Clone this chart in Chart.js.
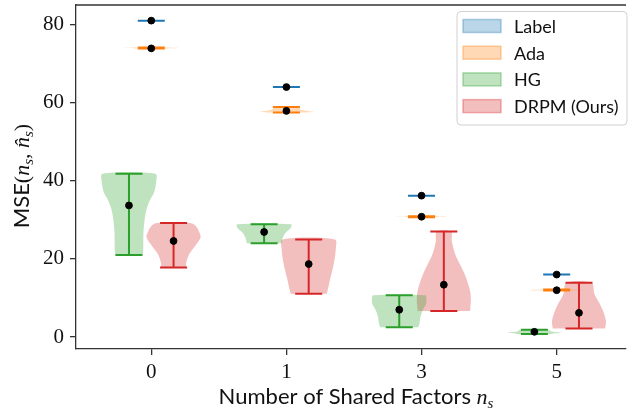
<!DOCTYPE html>
<html>
<head>
<meta charset="utf-8">
<script src="https://cdn.jsdelivr.net/npm/chart.js@4.4.1/dist/chart.umd.min.js"></script>
<style>
  html, body { margin: 0; padding: 0; background: #fff; }
  #wrap { width: 631px; height: 411px; }
</style>
</head>
<body>
<div id="wrap"><canvas id="violin-chart"></canvas></div>
<script>
// data
const categories = ['0', '1', '3', '5'];
const seriesNames = ['Label', 'Ada', 'HG', 'DRPM (Ours)'];
const yTicks = [0, 20, 40, 60, 80];

const labelMean = [81.0, 64.0, 36.2, 16.0];
const labelMin = [81.0, 64.0, 36.2, 16.0];
const labelMax = [81.0, 64.0, 36.2, 16.0];

const adaMean = [73.9, 57.9, 30.8, 12.0];
const adaMin = [73.85, 57.5, 30.7, 11.9];
const adaMax = [74.1, 58.9, 30.95, 12.15];

const hgMean = [33.7, 26.9, 7.0, 1.35];
const hgMin = [21.0, 24.0, 2.5, 0.8];
const hgMax = [41.8, 28.9, 10.7, 1.9];

const drpmMean = [24.6, 18.7, 13.4, 6.2];
const drpmMin = [17.8, 11.1, 6.7, 2.2];
const drpmMax = [29.2, 25.0, 27.0, 13.9];

// violin outlines: [value, half width (category units)]
const labelShape = [[], [], [], []];
const adaShape = [
  [[73.85, 0.08], [74.0, 0.2], [74.1, 0.08]],
  [[57.5, 0.14], [57.7, 0.2], [57.9, 0.15], [58.3, 0.1], [58.9, 0.1]],
  [[30.7, 0.08], [30.82, 0.2], [30.95, 0.08]],
  [[11.9, 0.08], [12.0, 0.2], [12.15, 0.08]]
];
const hgShape = [
  [[21.0, 0.10], [22.0, 0.105], [26.7, 0.107], [30.1, 0.116], [32.7, 0.13], [35.2, 0.157], [36.9, 0.184], [39.4, 0.2], [41.8, 0.196]],
  [[24.0, 0.128], [25.5, 0.139], [26.7, 0.159], [28.0, 0.198], [28.9, 0.2]],
  [[2.5, 0.141], [3.5, 0.15], [5.2, 0.157], [6.9, 0.174], [8.6, 0.2], [10.2, 0.2], [10.7, 0.195]],
  [[0.8, 0.12], [1.15, 0.2], [1.45, 0.13], [1.9, 0.1]]
];
const drpmShape = [
  [[17.8, 0.092], [19.1, 0.094], [21.3, 0.117], [23.4, 0.161], [25.5, 0.2], [26.7, 0.192], [28.4, 0.166], [29.2, 0.121]],
  [[11.1, 0.134], [12.8, 0.146], [14.9, 0.159], [17.4, 0.177], [20.0, 0.192], [22.5, 0.2], [25.0, 0.195]],
  [[6.7, 0.194], [9.4, 0.2], [11.5, 0.196], [13.6, 0.18], [16.2, 0.153], [18.7, 0.118], [21.3, 0.083], [24.6, 0.059], [27.0, 0.053]],
  [[2.2, 0.194], [3.9, 0.2], [6.0, 0.186], [8.6, 0.153], [11.1, 0.114], [13.9, 0.094]]
];

const means = [labelMean, adaMean, hgMean, drpmMean];
const mins = [labelMin, adaMin, hgMin, drpmMin];
const maxs = [labelMax, adaMax, hgMax, drpmMax];
const shapes = [labelShape, adaShape, hgShape, drpmShape];

const colors = ['31,119,180', '255,127,14', '44,160,44', '214,39,40'];
const shift = [0, 0, -0.165, 0.165];
const capHalf = 0.1;

const datasets = [];
const dots = [];

seriesNames.forEach((name, s) => {
  const bars = [];
  categories.forEach((c, i) => {
    const x = i + shift[s];
    dots.push({x: x, y: means[s][i]});
    bars.push({x: x - capHalf, y: mins[s][i]}, {x: x + capHalf, y: mins[s][i]}, {x: x, y: null});
    bars.push({x: x - capHalf, y: maxs[s][i]}, {x: x + capHalf, y: maxs[s][i]}, {x: x, y: null});
    bars.push({x: x, y: mins[s][i]}, {x: x, y: maxs[s][i]}, {x: x, y: null});

    const shape = shapes[s][i];
    if (shape.length) {
      const left = shape.map(p => ({x: x - p[1], y: p[0]}));
      const right = shape.slice().reverse().map(p => ({x: x + p[1], y: p[0]}));
      datasets.push({
        type: 'line',
        label: name,
        data: left.concat(right),
        backgroundColor: 'rgba(' + colors[s] + ',0.3)',
        borderWidth: 0,
        pointRadius: 0,
        tension: 0.3,
        fill: 'shape',
        order: 3
      });
    }
  });
  datasets.push({
    type: 'line',
    label: name,
    data: bars,
    borderColor: 'rgb(' + colors[s] + ')',
    borderWidth: 2,
    pointRadius: 0,
    fill: false,
    spanGaps: false,
    order: 2
  });
});

datasets.push({
  type: 'scatter',
  label: 'mean',
  data: dots,
  backgroundColor: '#000',
  borderColor: '#000',
  pointRadius: 3.4,
  order: 1
});

const sansFont = 'Lato';
const serifFont = 'Liberation Serif';

function drawParts(ctx, parts, x, y) {
  let cx = x;
  parts.forEach(p => {
    ctx.font = p.font;
    ctx.fillText(p.t, cx, y + (p.dy || 0));
    cx += ctx.measureText(p.t).width;
  });
  return cx - x;
}

function partsWidth(ctx, parts) {
  let w = 0;
  parts.forEach(p => { ctx.font = p.font; w += ctx.measureText(p.t).width; });
  return w;
}

const decorations = {
  id: 'decorations',
  afterDraw(chart) {
    const {ctx, chartArea} = chart;
    ctx.save();

    // top spine
    ctx.strokeStyle = '#333';
    ctx.lineWidth = 1.3;
    ctx.beginPath();
    ctx.moveTo(chartArea.left, chartArea.top);
    ctx.lineTo(chartArea.right, chartArea.top);
    ctx.stroke();

    ctx.fillStyle = '#111';
    ctx.textBaseline = 'alphabetic';
    ctx.textAlign = 'left';

    // x title
    const xParts = [
      {t: 'Number of Shared Factors ', font: '22px ' + sansFont},
      {t: 'n', font: 'italic 22px "' + serifFont + '"'},
      {t: 's', font: 'italic 15px "' + serifFont + '"', dy: 4}
    ];
    const xw = partsWidth(ctx, xParts);
    drawParts(ctx, xParts, 356 - xw / 2, 404);

    // y title
    const yParts = [
      {t: 'MSE', font: '22px ' + sansFont},
      {t: '(', font: '22px "' + serifFont + '"'},
      {t: 'n', font: 'italic 22px "' + serifFont + '"'},
      {t: 's', font: 'italic 15px "' + serifFont + '"', dy: 4},
      {t: ', ', font: '22px "' + serifFont + '"'},
      {t: 'n\u0302', font: 'italic 22px "' + serifFont + '"'},
      {t: 's', font: 'italic 15px "' + serifFont + '"', dy: 4},
      {t: ')', font: '22px "' + serifFont + '"'}
    ];
    const yw = partsWidth(ctx, yParts);
    ctx.save();
    ctx.translate(29, 176);
    ctx.rotate(-Math.PI / 2);
    drawParts(ctx, yParts, -yw / 2, 0);
    ctx.restore();

    // legend
    const lx = 457, ly = 11.5, lw = 170, lh = 113.5;
    ctx.beginPath();
    ctx.roundRect(lx, ly, lw, lh, 4);
    ctx.fillStyle = 'rgba(255,255,255,0.8)';
    ctx.fill();
    ctx.strokeStyle = '#d0d0d0';
    ctx.lineWidth = 1;
    ctx.stroke();
    ctx.textBaseline = 'middle';
    ctx.font = '18px ' + sansFont;
    seriesNames.forEach((name, s) => {
      const cy = 26 + s * 26.7;
      ctx.fillStyle = 'rgba(' + colors[s] + ',0.3)';
      ctx.fillRect(463, cy - 6.5, 38, 13);
      ctx.strokeStyle = 'rgba(' + colors[s] + ',0.35)';
      ctx.lineWidth = 1.5;
      ctx.strokeRect(463, cy - 6.5, 38, 13);
      ctx.fillStyle = '#111';
      ctx.fillText(name, 514, cy + 1);
    });

    ctx.restore();
  }
};

new Chart(document.getElementById('violin-chart'), {
  type: 'scatter',
  data: { datasets: datasets },
  plugins: [decorations],
  options: {
    responsive: true,
    maintainAspectRatio: false,
    animation: false,
    layout: { padding: { top: 2, right: 0, left: 0, bottom: 0 } },
    plugins: {
      legend: { display: false },
      tooltip: { enabled: false }
    },
    scales: {
      x: {
        type: 'linear',
        min: -0.557,
        max: 3.513,
        afterBuildTicks: scale => { scale.ticks = categories.map((c, i) => ({value: i})); },
        afterFit: scale => {
          scale.height = 62;
          scale.paddingLeft = 0;
          scale.paddingRight = 0;
        },
        ticks: {
          callback: value => categories[value],
          font: { family: serifFont, size: 21 },
          color: '#111',
          padding: 5,
          maxRotation: 0,
          autoSkip: false
        },
        grid: { drawOnChartArea: false, drawTicks: true, tickLength: 6, color: '#333', lineWidth: 1.3 },
        border: { display: true, color: '#333', width: 1.3 }
      },
      y: {
        min: -3.05,
        max: 85,
        afterBuildTicks: scale => { scale.ticks = yTicks.map(v => ({value: v})); },
        afterFit: scale => {
          scale.width = 76;
          scale.paddingTop = 0;
          scale.paddingBottom = 0;
        },
        ticks: {
          font: { family: serifFont, size: 21 },
          color: '#111',
          padding: 6
        },
        grid: { drawOnChartArea: false, drawTicks: true, tickLength: 6, color: '#333', lineWidth: 1.3 },
        border: { display: true, color: '#333', width: 1.3 }
      }
    }
  }
});
</script>
</body>
</html>
